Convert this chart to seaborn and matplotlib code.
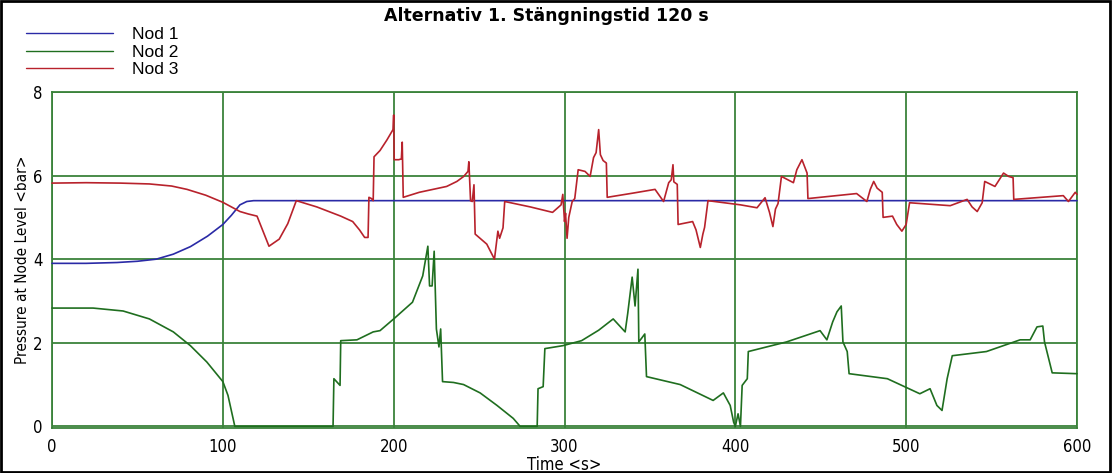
import matplotlib
matplotlib.use("Agg")
import matplotlib.pyplot as plt
import seaborn as sns
import pandas as pd
from matplotlib.patches import Rectangle
from matplotlib.lines import Line2D
from matplotlib import font_manager

# ---- data ----
series_names = ["Nod 1", "Nod 2", "Nod 3"]

t1 = [0, 20, 38, 50, 61, 71, 81, 91, 100, 105, 110, 114, 118, 600]
p1 = [3.9, 3.9, 3.92, 3.95, 4.0, 4.12, 4.3, 4.55, 4.83, 5.05, 5.3, 5.38, 5.4, 5.4]

t2 = [0, 24, 41.6, 57, 71, 81, 90.6, 100, 103, 107, 164.5, 165, 168.6, 169, 178.5,
      188, 192, 200, 211, 217, 220, 221, 222.5, 223.7, 225, 226.5, 227.5, 228.6,
      235, 240.9, 250.6, 260.5, 270, 274, 284, 284.5, 287.5, 288.5, 299, 310, 320, 328.5,
      335.5, 337, 339.6, 341.3, 343, 343.5, 347, 348, 367.7, 387, 393, 397, 399,
      400, 401.6, 403, 404, 407, 407.6, 430, 449.6, 453.6, 457, 459.5, 462, 463,
      465.5, 466.6, 489, 508, 514, 518, 521, 524, 527, 547, 566.7, 572.6, 576.6,
      580, 581, 585.5, 600]
p2 = [2.83, 2.83, 2.76, 2.57, 2.26, 1.93, 1.54, 1.07, 0.74, 0.0, 0.0, 1.14, 0.98, 2.05, 2.07,
      2.26, 2.29, 2.57, 2.97, 3.6, 4.31, 3.36, 3.36, 4.19, 2.33, 1.9, 2.33, 1.07,
      1.05, 1.0, 0.8, 0.5, 0.19, 0.0, 0.0, 0.9, 0.95, 1.86, 1.93, 2.05, 2.3, 2.57,
      2.26, 2.7, 3.57, 2.88, 3.76, 2.02, 2.21, 1.19, 1.0, 0.62, 0.8, 0.5, 0.1,
      0.0, 0.3, 0.0, 0.98, 1.14, 1.79, 2.02, 2.29, 2.07, 2.5, 2.74, 2.88, 2.02,
      1.79, 1.26, 1.14, 0.78, 0.9, 0.5, 0.38, 1.14, 1.69, 1.79, 2.07, 2.07, 2.38,
      2.4, 2.02, 1.28, 1.26]

t3 = [0, 20, 40, 57, 70, 79, 90, 100, 110, 115, 120, 127, 133, 138, 143, 155, 169,
      176, 180, 183, 185, 185.5, 187, 188, 188.5, 192, 196, 199.6, 200, 200.3, 203,
      204.5, 205, 205.6, 215, 231, 237, 241, 243.5, 244, 245, 246, 247, 247.7,
      254.5, 259, 261, 262, 264, 265, 280, 293, 298, 299, 300, 300.6, 301.5, 302.5,
      304.5, 306, 308, 312, 315, 317, 318.5, 320, 321, 322.6, 324.5, 325, 340, 353,
      358, 361, 362.5, 363.5, 364, 366, 366.5, 375, 377, 379.5, 381, 382, 384, 403,
      412.7, 417.4, 420, 422, 423.5, 425, 427, 434, 436, 439, 442, 442.5, 471, 477,
      479, 481, 483, 486, 486.5, 492, 494.5, 497.5, 500, 502, 525.8, 535.7, 538.6,
      541.6, 544.5, 546, 552, 557, 560, 562.6, 563, 592, 595, 599, 600]
p3 = [5.82, 5.83, 5.82, 5.8, 5.75, 5.67, 5.53, 5.36, 5.14, 5.08, 5.03, 4.31, 4.48, 4.85, 5.4, 5.25, 5.03,
      4.9, 4.7, 4.52, 4.52, 5.48, 5.45, 5.4, 6.45, 6.6, 6.85, 7.1, 7.45, 6.38, 6.38,
      6.4, 6.8, 5.48, 5.6, 5.74, 5.86, 5.98, 6.1, 6.33, 5.4, 5.38, 5.78, 4.6,
      4.36, 4.0, 4.67, 4.5, 4.75, 5.38, 5.25, 5.12, 5.3, 5.55, 4.9, 5.1, 4.5, 5.0,
      5.38, 5.45, 6.14, 6.1, 5.98, 6.43, 6.55, 7.1, 6.5, 6.36, 6.3, 5.48, 5.58, 5.67,
      5.38, 5.83, 5.9, 6.26, 5.85, 5.79, 4.83, 4.9, 4.7, 4.28, 4.6, 4.76, 5.4, 5.3,
      5.23, 5.47, 5.12, 4.78, 5.2, 5.33, 5.98, 5.83, 6.14, 6.38, 6.06, 5.45, 5.57, 5.38,
      5.67, 5.86, 5.7, 5.6, 5.0, 5.03, 4.83, 4.67, 4.83, 5.35, 5.28, 5.43, 5.25,
      5.14, 5.35, 5.86, 5.74, 6.06, 5.98, 5.95, 5.43, 5.52, 5.38, 5.6, 5.55]

x_ticks = [0, 100, 200, 300, 400, 500, 600]
y_ticks = [0, 2, 4, 6, 8]
title = "Alternativ 1. Stängningstid 120 s"
xlabel = "Time <s>"
ylabel = "Pressure at Node Level <bar>"

frames = []
for name, t, p in zip(series_names, [t1, t2, t3], [p1, p2, p3]):
    frames.append(pd.DataFrame({"time": t, "pressure": p, "node": name}))
df = pd.concat(frames, ignore_index=True)

# ---- style ----
sns.set_style("white")
plt.rcParams["font.family"] = ["Liberation Sans", "DejaVu Sans"]
plt.rcParams["text.color"] = "black"
plt.rcParams["axes.labelcolor"] = "black"
plt.rcParams["xtick.color"] = "black"
plt.rcParams["ytick.color"] = "black"
installed = {f.name for f in font_manager.fontManager.ttflist}
if "Liberation Sans Narrow" in installed:
    narrow = dict(family=["Liberation Sans Narrow", "DejaVu Sans"])
else:
    narrow = dict(family=["DejaVu Sans"], fontstretch="condensed")

grid_green = "#3a823a"
palette = {"Nod 1": "#2a2aa6", "Nod 2": "#1f6e1f", "Nod 3": "#b8222c"}

fig = plt.figure(figsize=(11.12, 4.73), dpi=100)
ax = fig.add_axes([0.0468, 0.0951, 0.9217, 0.7104])

sns.lineplot(data=df, x="time", y="pressure", hue="node", palette=palette,
             estimator=None, sort=False, linewidth=1.2, ax=ax, legend=False)
for ln in ax.lines:
    ln.set_clip_on(False)
    ln.set_zorder(4)

ax.set_xlim(0, 600)
ax.set_ylim(-0.04, 8)
ax.set_xticks(x_ticks)
ax.set_yticks(y_ticks)
ax.set_xticklabels([str(v) for v in x_ticks], fontsize=12, **narrow)
ax.set_yticklabels([str(v) for v in y_ticks], fontsize=12, **narrow)
ax.tick_params(axis="both", direction="out", length=5, width=1, color=grid_green,
               labelcolor="black", pad=2)
ax.grid(True, color=grid_green, linewidth=1.3, zorder=1)
ax.set_axisbelow(True)
for s in ax.spines.values():
    s.set_color(grid_green)
    s.set_linewidth(1.3)

ax.set_xlabel(xlabel, fontsize=12, labelpad=0, color="black", **narrow)
ax.set_ylabel(ylabel, fontsize=11, labelpad=2, color="black", **narrow)

fig.text(0.491, 0.967, title, ha="center", va="center", fontsize=12.5,
         fontweight="bold", color="black", family=["DejaVu Sans"])

handles = [Line2D([0], [0], color=palette[n], linewidth=1.0) for n in series_names]
leg = fig.legend(handles, series_names, loc="upper left", bbox_to_anchor=(0.017, 0.958),
                 frameon=False, fontsize=12.5, handlelength=5.0, handletextpad=1.1,
                 labelspacing=0.15, borderaxespad=0)
for txt in leg.get_texts():
    txt.set_color("black")

fig.patches.append(Rectangle((0.001, 0.002), 0.997, 0.995, transform=fig.transFigure,
                             fill=False, edgecolor="black", linewidth=2))

fig.savefig("out.png", dpi=100)
